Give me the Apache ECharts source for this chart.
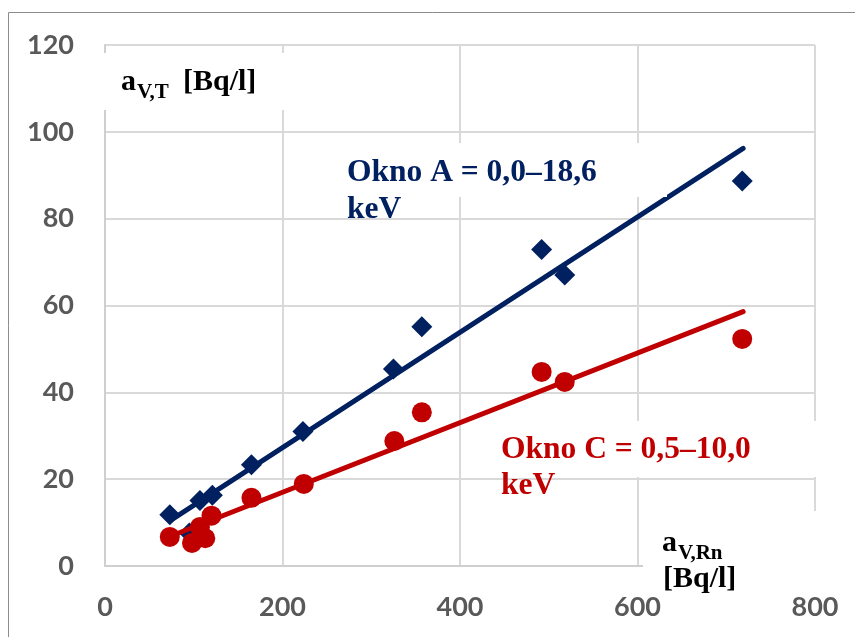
<!DOCTYPE html>
<html>
<head>
<meta charset="utf-8">
<script src="https://cdn.jsdelivr.net/npm/echarts@6/dist/echarts.min.js"></script>
<style>
  html, body { margin: 0; padding: 0; background: #fff; }
  #chart { width: 855px; height: 637px; }
</style>
</head>
<body>
<div id="chart"></div>
<script>
// Radon activity concentration (x) vs. tritium-channel activity (y)
const xTicks = [0, 200, 400, 600, 800];
const yTicks = [0, 20, 40, 60, 80, 100, 120];

// Window A = 0,0–18,6 keV
const xA = [73, 95, 107, 121, 165, 223, 325, 357, 492, 518, 718];
const yA = [11.8, 7.6, 15.1, 16.3, 23.3, 31.0, 45.4, 55.1, 72.9, 67.0, 88.7];

// Window C = 0,5–10,0 keV
const xC = [73, 98, 107, 113, 120, 165, 224, 326, 357, 492, 518, 718];
const yC = [6.7, 5.3, 9.0, 6.4, 11.6, 15.7, 18.9, 28.8, 35.4, 44.7, 42.4, 52.3];

// Linear trend lines (end points)
const trendAx = [73, 719];
const trendAy = [10.4, 96.2];
const trendCx = [73, 719];
const trendCy = [6.8, 58.6];

const NAVY = '#002060';
const RED = '#C00000';
const SERIF = '"Liberation Serif", "Times New Roman", serif';

const zip = (xs, ys) => xs.map((x, i) => [x, ys[i]]);

const chart = echarts.init(document.getElementById('chart'), null, { renderer: 'canvas' });

// bold serif text placed by its baseline
function txt(x, baseline, text, size, color) {
  return {
    type: 'text', x: x, y: baseline - 0.33 * size, z: 20,
    style: {
      text: text, fill: color, fontFamily: SERIF, fontWeight: 'bold',
      fontSize: size, align: 'left', verticalAlign: 'middle'
    }
  };
}
function box(x, y, w, h) {
  return { type: 'rect', z: 10, shape: { x: x, y: y, width: w, height: h },
           style: { fill: '#ffffff' } };
}

const option = {
  backgroundColor: '#ffffff',
  animation: false,
  grid: { left: 105, right: 40, top: 45, bottom: 71, containLabel: false },
  xAxis: {
    type: 'value', min: xTicks[0], max: xTicks[xTicks.length - 1], interval: 200,
    axisLine: { show: true, lineStyle: { color: '#cfcfcf', width: 2 } },
    axisTick: { show: false },
    axisLabel: { margin: 28, color: '#595959', fontFamily: 'Lato', fontWeight: 'bold', fontSize: 27 },
    splitLine: { show: true, lineStyle: { color: '#d9d9d9', width: 2 } }
  },
  yAxis: {
    type: 'value', min: yTicks[0], max: yTicks[yTicks.length - 1], interval: 20,
    axisLine: { show: true, lineStyle: { color: '#cfcfcf', width: 2 } },
    axisTick: { show: false },
    axisLabel: { margin: 31, color: '#595959', fontFamily: 'Lato', fontWeight: 'bold', fontSize: 27 },
    splitLine: { show: true, lineStyle: { color: '#d9d9d9', width: 2 } }
  },
  series: [
    {
      name: 'Okno A', type: 'scatter', data: zip(xA, yA), z: 2,
      symbol: 'diamond', symbolSize: 21, itemStyle: { color: NAVY, opacity: 1 }
    },
    {
      name: 'Trend A', type: 'line', data: zip(trendAx, trendAy), z: 3,
      showSymbol: false, symbol: 'none',
      lineStyle: { color: NAVY, width: 5, cap: 'round' }
    },
    {
      name: 'Okno C', type: 'scatter', data: zip(xC, yC), z: 4,
      symbol: 'circle', symbolSize: 20, itemStyle: { color: RED, opacity: 1 }
    },
    {
      name: 'Trend C', type: 'line', data: zip(trendCx, trendCy), z: 5,
      showSymbol: false, symbol: 'none',
      lineStyle: { color: RED, width: 5, cap: 'round' }
    }
  ],
  graphic: [
    // chart frame
    { type: 'rect', z: 30, shape: { x: 8.5, y: 12.5, width: 900, height: 700 },
      style: { fill: 'none', stroke: '#8c8c8c', lineWidth: 1 } },
    // label backgrounds
    box(98, 53, 192, 57),
    box(340, 143, 327, 54),
    box(495, 421, 335, 56),
    box(643, 511, 190, 84),
    // y-axis title
    txt(121, 92, 'a', 30, '#000'),
    txt(137, 100, 'V,T', 21, '#000'),
    txt(183, 92, '[Bq/l]', 30, '#000'),
    // x-axis title
    txt(662, 553, 'a', 30, '#000'),
    txt(678, 561, 'V,Rn', 21, '#000'),
    txt(663, 589, '[Bq/l]', 30, '#000'),
    // series labels
    txt(347, 183, 'Okno A = 0,0–18,6', 31.5, NAVY),
    txt(347, 220, 'keV', 31.5, NAVY),
    txt(501, 460, 'Okno C = 0,5–10,0', 31.5, RED),
    txt(501, 496, 'keV', 31.5, RED)
  ]
};

chart.setOption(option);
</script>
</body>
</html>
